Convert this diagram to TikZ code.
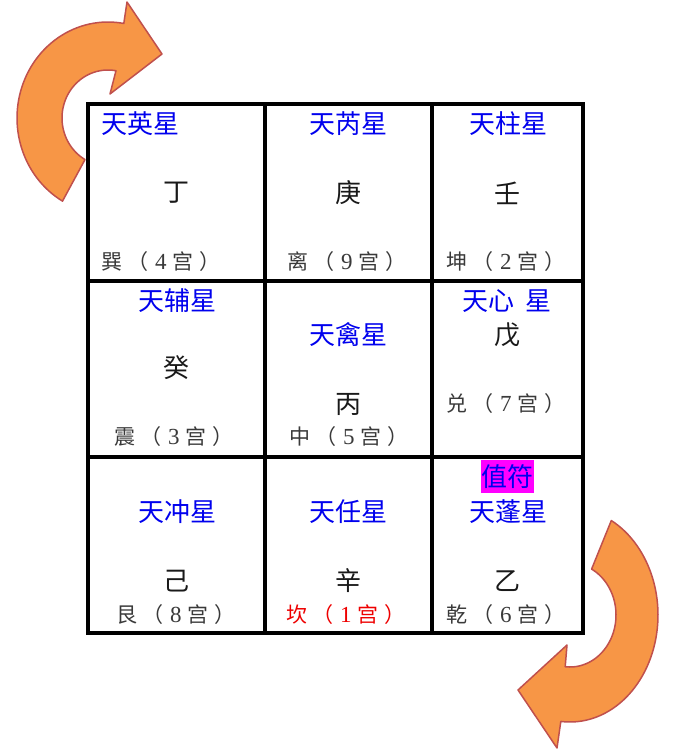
\documentclass[tikz,border=0pt]{standalone}
\usepackage{fontspec}
\newfontfamily\cjk{Noto Sans CJK SC}
\newfontfamily\digitfont{Liberation Serif}
\definecolor{arrowfill}{HTML}{F79646}
\definecolor{arrowline}{HTML}{C0504D}
\definecolor{starblue}{HTML}{0000EE}
\definecolor{zhifu}{HTML}{FF00FF}
\definecolor{gonggray}{HTML}{3A3A3A}
\definecolor{kanred}{HTML}{EE0000}
\newcommand{\gonglabel}[2]{#1\hspace{5pt}（\hspace{7pt}{\digitfont\fontsize{23}{25}\selectfont #2}\hspace{6pt}宫\hspace{6pt}）}
\tikzset{
  star/.style={font=\cjk\fontsize{26}{30}\selectfont, text=starblue, inner sep=0pt},
  stem/.style={font=\cjk\fontsize{26}{30}\selectfont, text=black!90, inner sep=0pt},
  gong/.style={font=\cjk\fontsize{21}{25}\selectfont, text=gonggray, inner sep=0pt, anchor=west},
  gridline/.style={line width=4pt, line cap=rect},
  bigarrow/.style={fill=arrowfill, draw=arrowline, line width=1.5pt, line join=round},
  zhifubox/.style={fill=zhifu, text=starblue, font=\cjk\fontsize{26}{30}\selectfont, inner sep=0pt, minimum width=53pt, minimum height=33pt}
}
\begin{document}
\begin{tikzpicture}[x=1pt, y=-1pt]
  \useasboundingbox[fill=white] (0,0) rectangle (686,755);
  % curved arrows
  \draw[bigarrow] plot[domain=120:280, samples=60] ({108+91*cos(\x)},{118+96*sin(\x)})
     -- (127,2) -- (162,54) -- (110,94)
     -- plot[domain=280:120, samples=60] ({108+46*cos(\x)},{118+48*sin(\x)}) -- cycle;
  \draw[bigarrow] plot[domain=-62:96, samples=60] ({570+88*cos(\x)},{615+107*sin(\x)})
     -- (557,748) -- (518,690) -- (567,645)
     -- plot[domain=96:-62, samples=60] ({570+46*cos(\x)},{615+52*sin(\x)}) -- cycle;
  % grid
  \coordinate (tl) at (88,104);
  \coordinate (br) at (583,633);
  \draw[gridline] (tl) rectangle (br);
  \draw[gridline] (265,104) -- (265,633);
  \draw[gridline] (432,104) -- (432,633);
  \draw[gridline] (88,281) -- (583,281);
  \draw[gridline] (88,457) -- (583,457);
  % row 1
  \node[star, anchor=west] (n11s) at (101,124) {天英星};
  \node[stem] (n11t) at (176,193) {丁};
  \node[gong] (n11g) at (101,262) {\gonglabel{巽}{4}};
  \node[star] (n12s) at (348,124) {天芮星};
  \node[stem] (n12t) at (348,193) {庚};
  \node[gong] (n12g) at (287,262) {\gonglabel{离}{9}};
  \node[star] (n13s) at (508,124) {天柱星};
  \node[stem] (n13t) at (507,193) {壬};
  \node[gong] (n13g) at (446,262) {\gonglabel{坤}{2}};
  % row 2
  \node[star] (n21s) at (177,301) {天辅星};
  \node[stem] (n21t) at (176,368) {癸};
  \node[gong] (n21g) at (114,437) {\gonglabel{震}{3}};
  \node[star] (n22s) at (348,335) {天禽星};
  \node[stem] (n22t) at (348,404) {丙};
  \node[gong] (n22g) at (289,437) {\gonglabel{中}{5}};
  \node[star] (n23s) at (507,301) {天心\hspace{12pt}星};
  \node[stem] (n23t) at (507,335) {戊};
  \node[gong] (n23g) at (446,404) {\gonglabel{兑}{7}};
  % row 3
  \node[zhifubox] (zf) at (507.5,476.5) {值符};
  \node[star] (n31s) at (177,512) {天冲星};
  \node[stem] (n31t) at (176,581) {己};
  \node[gong] (n31g) at (116,615) {\gonglabel{艮}{8}};
  \node[star] (n32s) at (348,512) {天任星};
  \node[stem] (n32t) at (348,581) {辛};
  \node[gong, text=kanred] (n32g) at (286,615) {\gonglabel{坎}{1}};
  \node[star] (n33s) at (508,512) {天蓬星};
  \node[stem] (n33t) at (507,581) {乙};
  \node[gong] (n33g) at (446,615) {\gonglabel{乾}{6}};
\end{tikzpicture}
\end{document}
